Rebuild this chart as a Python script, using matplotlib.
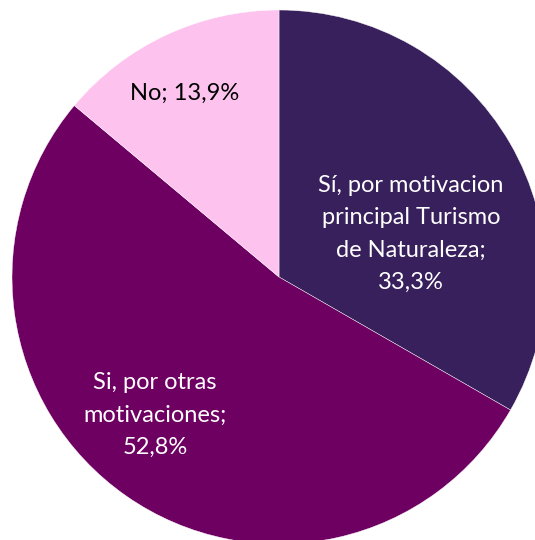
import matplotlib.pyplot as plt

labels = ['Sí, por motivacion\nprincipal Turismo\nde Naturaleza;\n33,3%',
          'Si, por otras\nmotivaciones;\n52,8%',
          'No; 13,9%']
values = [33.3, 52.8, 13.9]
colors = ['#38205D', '#6E0062', '#FDC3EE']
text_colors = ['white', 'white', 'black']

# pie centre and radius in pixels of the 535x540 picture
cx, cy, r = 279, 277, 267
W, H = 535, 540

fig = plt.figure(figsize=(W / 100, H / 100), dpi=100)
ax = fig.add_axes([0, 0, 1, 1])
ax.pie(values, colors=colors, startangle=90, counterclock=False, radius=1,
       wedgeprops=dict(edgecolor='white', linewidth=0.3))
ax.set_xlim(-cx / r, (W - cx) / r)
ax.set_ylim(-(H - cy) / r, cy / r)
ax.set_aspect('auto')
ax.axis('off')

# label centres in pixels
label_pos = [(411, 234), (155, 415), (185, 93)]
for lab, (px, py), tc in zip(labels, label_pos, text_colors):
    ax.text((px - cx) / r, (cy - py) / r, lab, ha='center', va='center',
            color=tc, fontsize=17, family=['Lato', 'DejaVu Sans'],
            linespacing=1.68)

fig.savefig('out.png', dpi=100)
